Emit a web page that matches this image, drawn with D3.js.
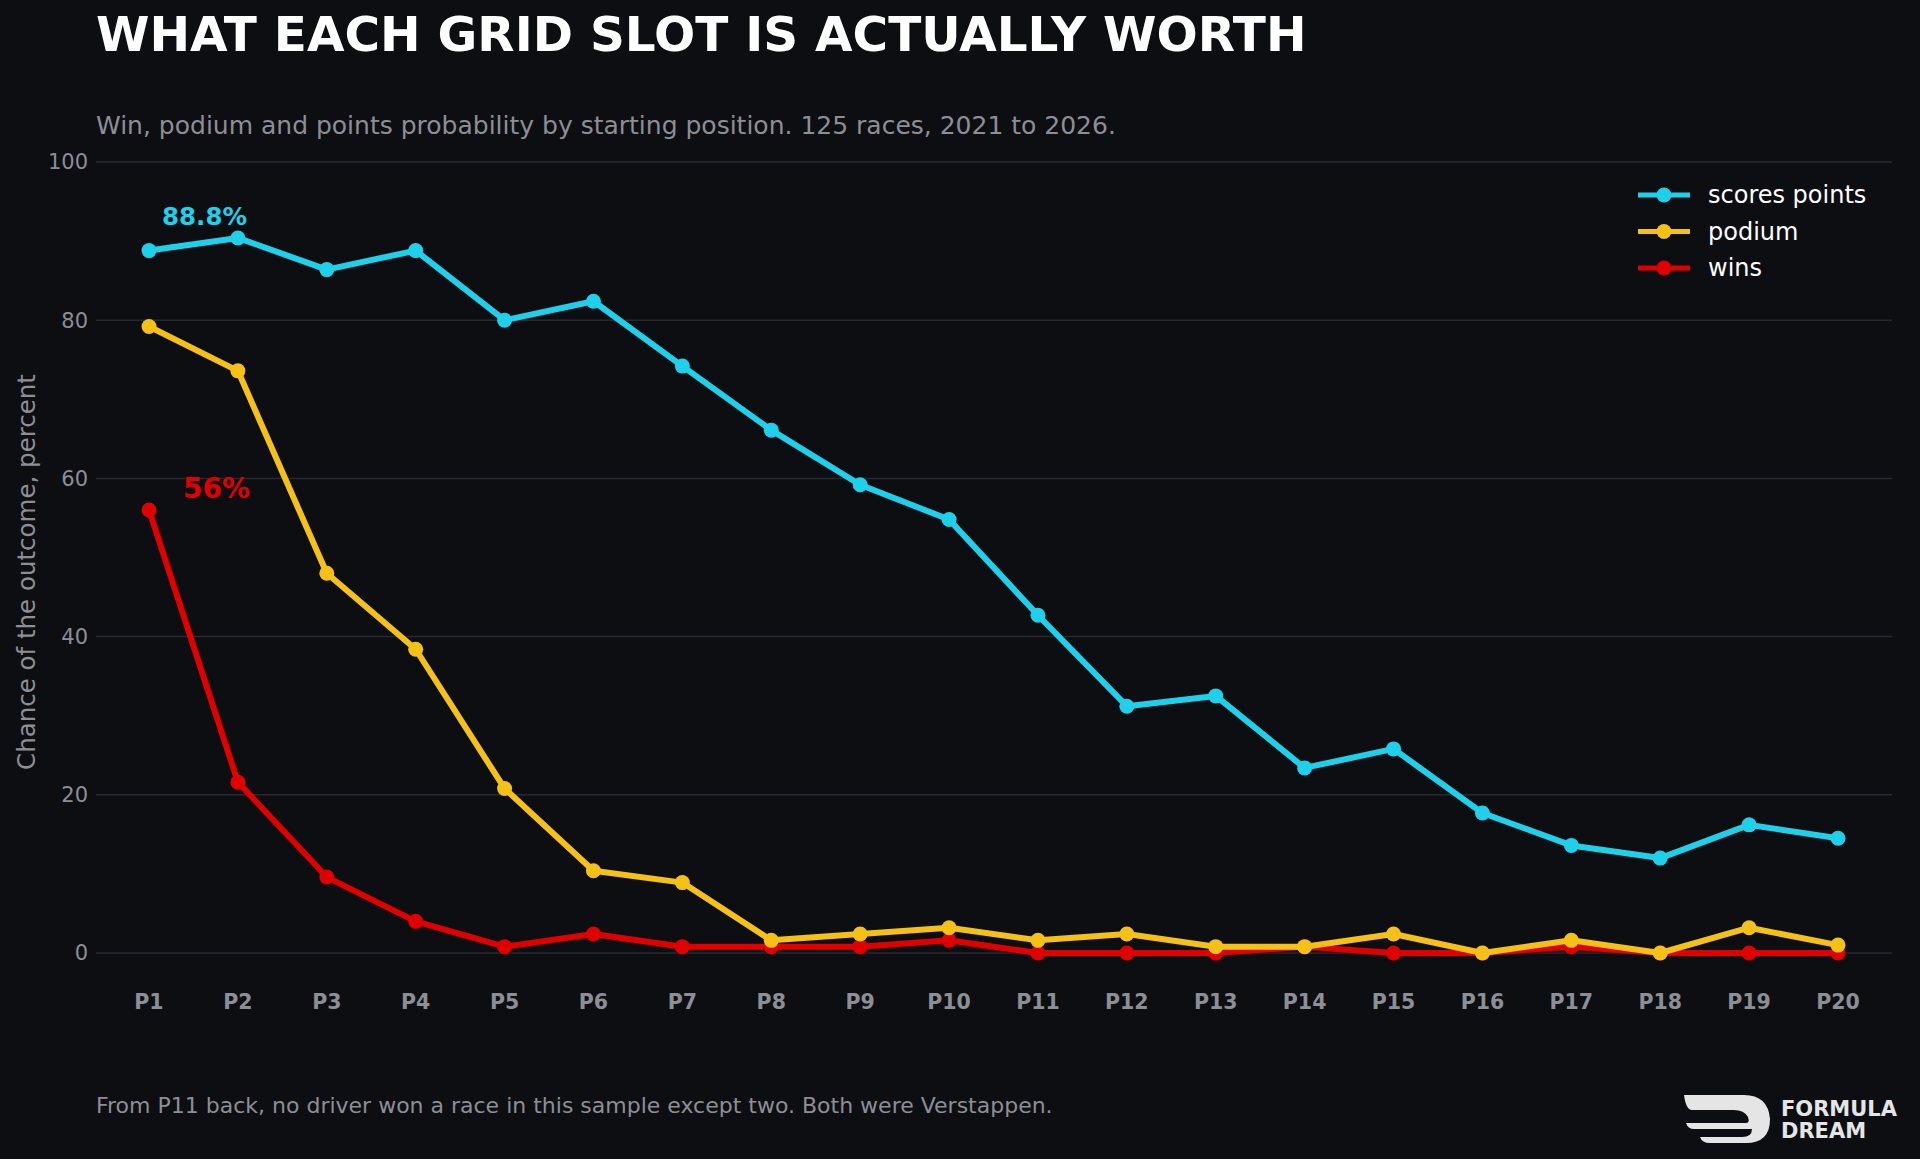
<!DOCTYPE html>
<html><head><meta charset="utf-8">
<script src="https://cdn.jsdelivr.net/npm/d3@7"></script>
<style>body{margin:0;background:#0c0e12;}svg{display:block;font-family:"DejaVu Sans",sans-serif;}</style>
</head><body><svg id="c" width="1920" height="1159"></svg>
<script>
const categories = ["P1","P2","P3","P4","P5","P6","P7","P8","P9","P10","P11","P12","P13","P14","P15","P16","P17","P18","P19","P20"];
const pointsVals = [88.8,90.4,86.4,88.8,80.0,82.4,74.2,66.1,59.2,54.8,42.7,31.2,32.5,23.4,25.8,17.7,13.6,12.0,16.2,14.5];
const podiumVals = [79.2,73.6,48.0,38.4,20.8,10.4,8.9,1.6,2.4,3.2,1.6,2.4,0.8,0.8,2.4,0,1.6,0,3.2,1.0];
const winsVals = [56.0,21.6,9.6,4.0,0.8,2.4,0.8,0.8,0.8,1.6,0,0,0,0.8,0,0,0.8,0,0,0];
const yTicks = [0,20,40,60,80,100];
const seriesNames = ["scores points","podium","wins"];
const colors = ["#1fd0ea","#f5c116","#e00000"];

const svg = d3.select("#c");
svg.append("rect").attr("width",1920).attr("height",1159).attr("fill","#0c0e12");
const x = d3.scalePoint().domain(categories).range([149,1838]);
const y = d3.scaleLinear().domain([0,100]).range([953,162]);

const grid = svg.append("g");
yTicks.forEach(t=>{
  grid.append("line").attr("x1",96).attr("x2",1892).attr("y1",y(t)).attr("y2",y(t))
    .attr("stroke","#262a30").attr("stroke-width",1.5);
  grid.append("text").attr("x",88).attr("y",y(t)).attr("dy","0.35em").attr("text-anchor","end")
    .attr("fill","#8c8f95").attr("font-size",21).text(t);
});
categories.forEach(c=>{
  svg.append("text").attr("x",x(c)).attr("y",1009).attr("text-anchor","middle")
    .attr("fill","#8c8f95").attr("font-size",20.5).attr("font-weight","bold").text(c);
});
const data = [pointsVals,podiumVals,winsVals];
const line = d3.line().x((d,i)=>x(categories[i])).y(d=>y(d));
[2,1,0].forEach(k=>{
  svg.append("path").attr("d",line(data[k])).attr("fill","none").attr("stroke",colors[k])
    .attr("stroke-width",6).attr("stroke-linejoin","round");
  svg.append("g").selectAll("circle").data(data[k]).join("circle")
    .attr("cx",(d,i)=>x(categories[i])).attr("cy",d=>y(d)).attr("r",7.5).attr("fill",colors[k]);
});
svg.append("text").attr("x",162).attr("y",225).attr("fill",colors[0]).attr("font-size",24.5).attr("font-weight","bold").text("88.8%");
svg.append("text").attr("x",183).attr("y",498).attr("fill",colors[2]).attr("font-size",28).attr("font-weight","bold").text("56%");

seriesNames.forEach((n,i)=>{
  const yy = 195 + i*36.5;
  svg.append("line").attr("x1",1638).attr("x2",1690).attr("y1",yy).attr("y2",yy).attr("stroke",colors[i]).attr("stroke-width",5);
  svg.append("circle").attr("cx",1664).attr("cy",yy).attr("r",7.5).attr("fill",colors[i]);
  svg.append("text").attr("x",1708).attr("y",yy).attr("dy","0.35em").attr("fill","#ffffff").attr("font-size",24).text(n);
});

svg.append("text").attr("x",96).attr("y",51).attr("fill","#ffffff").attr("font-size",48.5).attr("font-weight","bold").text("WHAT EACH GRID SLOT IS ACTUALLY WORTH");
svg.append("text").attr("x",96).attr("y",134).attr("fill","#8c8f95").attr("font-size",25).text("Win, podium and points probability by starting position. 125 races, 2021 to 2026.");
svg.append("text").attr("transform","translate(35,572) rotate(-90)").attr("text-anchor","middle").attr("fill","#8c8f95").attr("font-size",24.5).text("Chance of the outcome, percent");
svg.append("text").attr("x",96).attr("y",1113).attr("fill","#8c8f95").attr("font-size",22).text("From P11 back, no driver won a race in this sample except two. Both were Verstappen.");

// logo
const lg = svg.append("g").attr("transform","translate(1684,1093)");
lg.append("path").attr("d","M0,2 L60,2 Q84,2 86,26 Q86,50 62,50 L26,50 Q18,50 16,44 L58,44 Q68,44 68,36 L10,36 Q4,36 2,30 L62,30 Q66,30 64,24 Q60,17 50,17 L8,17 Q2,17 0,2 Z").attr("fill","#e5e5e5");
lg.append("text").attr("x",97).attr("y",23).attr("fill","#e5e5e5").attr("font-size",21).attr("font-weight","bold").text("FORMULA");
lg.append("text").attr("x",97).attr("y",45).attr("fill","#e5e5e5").attr("font-size",21).attr("font-weight","bold").text("DREAM");
</script></body></html>
